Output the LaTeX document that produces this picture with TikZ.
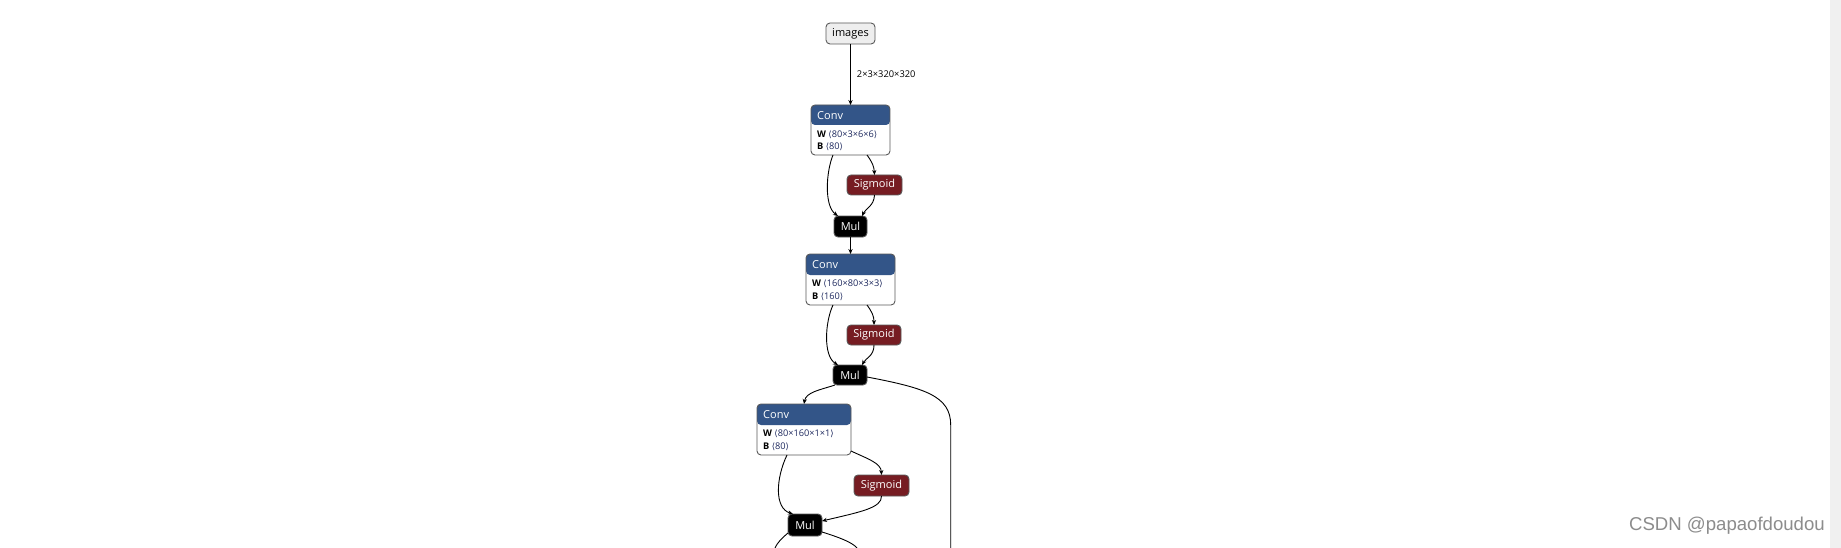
\documentclass[tikz,border=0pt]{standalone}
\usepackage{fontspec}
\setmainfont{Open Sans}
\newfontfamily\djv{DejaVu Sans}
\newfontfamily\arialf{Liberation Sans}
\usetikzlibrary{arrows.meta}
\definecolor{convblue}{HTML}{335588}
\definecolor{sigred}{HTML}{761C22}
\definecolor{nodeborder}{HTML}{5A5A5A}
\definecolor{inputgray}{HTML}{EEEEEE}
\definecolor{scrollgray}{HTML}{F0F0F0}
\definecolor{attrval}{HTML}{1F2A5F}
\definecolor{wmgray}{HTML}{8C8C8C}
\tikzset{
  box/.style={draw=nodeborder, line width=0.9pt, rounded corners=4pt, inner sep=0pt, outer sep=0pt, anchor=north west},
  convbox/.style={box, fill=white, path picture={\fill[convblue] (path picture bounding box.north west) rectangle ([yshift=-#1]path picture bounding box.north east);}},
  sigbox/.style={box, fill=sigred, text=white, font=\fontsize{11}{13}\selectfont},
  mulbox/.style={box, fill=black, text=white, font=\fontsize{11}{13}\selectfont},
  inbox/.style={box, fill=inputgray, text=black, font=\fontsize{11}{13}\selectfont},
  hdr/.style={anchor=west, inner sep=0pt, text=white, font=\fontsize{11}{13}\selectfont},
  attr/.style={anchor=west, inner sep=0pt, text=attrval, font=\fontsize{9.2}{11}\selectfont},
  edge/.style={draw=black, line width=0.9pt, -{Stealth[length=5pt,width=4.2pt]}},
  plain/.style={draw=black, line width=0.9pt}
}
\newcommand{\wb}[2]{\textbf{\color{black}#1}\ {\djv\fontsize{8.6}{10}\selectfont ⟨}#2{\djv\fontsize{8.6}{10}\selectfont ⟩}}
\begin{document}
\begin{tikzpicture}[x=1pt,y=-1pt]
\useasboundingbox (0,0) rectangle (1841,548);
\fill[white] (0,0) rectangle (1841,548);
\fill[scrollgray] (1830,0) rectangle (1841,548);

% input
\node[inbox, minimum width=49pt, minimum height=21pt] (images) at (826,23) {images};

% Conv 1 block
\node[convbox=20pt, minimum width=79pt, minimum height=50pt] (conv1) at (811,105) {};
\node[hdr] (conv1t) at (817,115.5) {Conv};
\node[attr] (conv1w) at (817,134.5) {\wb{W}{80×3×6×6}};
\node[attr] (conv1b) at (817,146.5) {\wb{B}{80}};
\node[sigbox, minimum width=55pt, minimum height=20pt] (sig1) at (847,175) {Sigmoid};
\node[mulbox, minimum width=33pt, minimum height=21pt] (mul1) at (834,216) {Mul};

% Conv 2 block
\node[convbox=21pt, minimum width=89pt, minimum height=51pt] (conv2) at (806,254) {};
\node[hdr] (conv2t) at (812,265) {Conv};
\node[attr] (conv2w) at (812,284) {\wb{W}{160×80×3×3}};
\node[attr] (conv2b) at (812,296.5) {\wb{B}{160}};
\node[sigbox, minimum width=54pt, minimum height=20pt] (sig2) at (847,325) {Sigmoid};
\node[mulbox, minimum width=34pt, minimum height=20pt] (mul2) at (833,365) {Mul};

% Conv 3 block
\node[convbox=21pt, minimum width=94pt, minimum height=51pt] (conv3) at (757,404) {};
\node[hdr] (conv3t) at (763,415) {Conv};
\node[attr] (conv3w) at (763,434) {\wb{W}{80×160×1×1}};
\node[attr] (conv3b) at (763,446.5) {\wb{B}{80}};
\node[sigbox, minimum width=55pt, minimum height=21pt] (sig3) at (854,475) {Sigmoid};
\node[mulbox, minimum width=34pt, minimum height=22pt] (mul3) at (788,514) {Mul};

% edges
\draw[edge] (images.south) -- node[right, inner sep=0pt, xshift=6pt, text=black, font=\fontsize{9.3}{11}\selectfont] (lbl) {2×3×320×320} (conv1.north);

\draw[edge] ([xshift=22pt]conv1.south west) .. controls (826,172) and (824,206) .. ([xshift=4pt]mul1.north west);
\draw[edge] ([xshift=-23pt]conv1.south east) .. controls (872,162) and (874,166) .. (sig1.north);
\draw[edge] (sig1.south) .. controls (874,206) and (866,208) .. ([xshift=-5pt]mul1.north east);
\draw[edge] (mul1.south) -- (conv2.north);

\draw[edge] ([xshift=27pt]conv2.south west) .. controls (825,322) and (823,356) .. ([xshift=5pt]mul2.north west);
\draw[edge] ([xshift=-28pt]conv2.south east) .. controls (872,312) and (874,316) .. (sig2.north);
\draw[edge] (sig2.south) .. controls (874,356) and (866,358) .. ([xshift=-5pt]mul2.north east);

\draw[edge] ([xshift=2pt]mul2.south west) .. controls (820,390) and (806,392) .. ([xshift=47pt]conv3.north west);
\coordinate (longend) at (950.7,548);
\draw[plain] ([yshift=-12pt]mul2.north east) .. controls (925,388) and (950.7,396) .. (950.7,425) -- (longend);

\draw[edge] ([xshift=30pt]conv3.south west) .. controls (776,478) and (774,508) .. ([xshift=5pt]mul3.north west);
\draw[edge] ([yshift=4pt]conv3.south east) .. controls (868,459) and (881,463) .. (sig3.north);
\draw[edge] (sig3.south) .. controls (882,508) and (860,512) .. ([yshift=-7pt]mul3.north east);

\coordinate (outl) at (775,548);
\coordinate (outr) at (857,548);
\draw[plain] ([yshift=3pt]mul3.south west) .. controls (782,538) and (777,543) .. (outl);
\draw[plain] ([yshift=4pt]mul3.south east) .. controls (838,537) and (852,542) .. (outr);

% watermark
\node[anchor=east, inner sep=0pt, text=wmgray, font=\arialf\fontsize{18.6}{20}\selectfont] (wm) at (1825,526) {CSDN @papaofdoudou};
\end{tikzpicture}
\end{document}
